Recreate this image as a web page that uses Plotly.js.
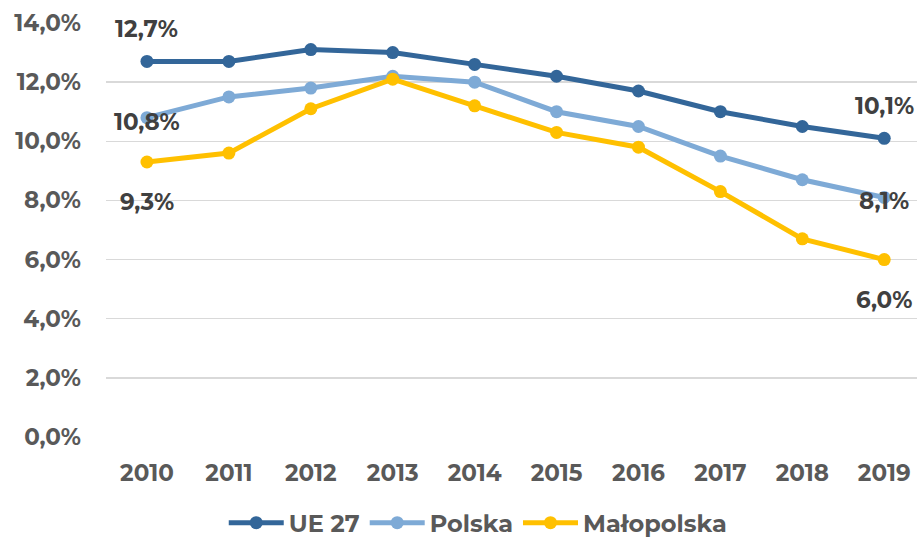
<!DOCTYPE html>
<html><head><meta charset="utf-8">
<script src="https://cdn.plot.ly/plotly-3.0.1.min.js"></script>
<style>html,body{margin:0;padding:0;background:#fff}#chart{width:917px;height:540px}</style>
</head><body><div id="chart"></div>
<script>
const years = ['2010','2011','2012','2013','2014','2015','2016','2017','2018','2019'];
const ue27 = [12.7, 12.7, 13.1, 13.0, 12.6, 12.2, 11.7, 11.0, 10.5, 10.1];
const polska = [10.8, 11.5, 11.8, 12.2, 12.0, 11.0, 10.5, 9.5, 8.7, 8.1];
const malopolska = [9.3, 9.6, 11.1, 12.1, 11.2, 10.3, 9.8, 8.3, 6.7, 6.0];
const seriesNames = ['UE 27', 'Polska', 'Małopolska'];
const yTicks = [0, 2, 4, 6, 8, 10, 12, 14];

const PCT = String.fromCharCode(37);
const colors = ['#336699', '#7EAAD6', '#FFC000'];
const labelShift = [32, -4, -40];
const FONT = 'Montserrat, "Open Sans", sans-serif';
const SIZE = 23;

const allSeries = [ue27, polska, malopolska];
const traces = allSeries.map((vals, i) => ({
  x: years, y: vals, name: seriesNames[i], type: 'scatter', mode: 'lines+markers',
  line: {color: colors[i], width: 5}, marker: {color: colors[i], size: 13},
  hoverinfo: 'skip'
}));

const fmt = v => v.toFixed(1).replace('.', ',') + PCT;
const annotations = [];
allSeries.forEach((vals, i) => {
  [0, vals.length - 1].forEach(k => {
    annotations.push({
      x: k, y: vals[k], xref: 'x', yref: 'y', text: fmt(vals[k]),
      showarrow: false, yshift: labelShift[i],
      font: {family: FONT, size: SIZE, color: '#404040', weight: 700}
    });
  });
});

const tf = {family: FONT, size: SIZE, color: '#595959', weight: 700};
const layout = {
  width: 917, height: 540,
  margin: {l: 106, r: 0, t: 23, b: 103, autoexpand: false},
  paper_bgcolor: '#fff', plot_bgcolor: '#fff',
  font: tf,
  xaxis: {type: 'category', range: [-0.5, 9.4], showgrid: false, zeroline: false, showline: false,
          ticks: '', ticklabelstandoff: 20, tickfont: tf, automargin: false},
  yaxis: {range: [0, 14], tickvals: yTicks, ticktext: yTicks.map(fmt), automargin: false,
          showgrid: true, gridcolor: '#D9D9D9', gridwidth: 1.5, zeroline: false, showline: false,
          ticks: '', ticklabelstandoff: 24, tickfont: tf},
  showlegend: true,
  legend: {orientation: 'h', x: 0.459, xanchor: 'center', y: -0.208, yanchor: 'middle',
           font: {family: FONT, size: 24, color: '#595959', weight: 700}, itemwidth: 55},
  annotations: annotations
};

Plotly.newPlot('chart', traces, layout, {displayModeBar: false, staticPlot: true});
</script></body></html>
